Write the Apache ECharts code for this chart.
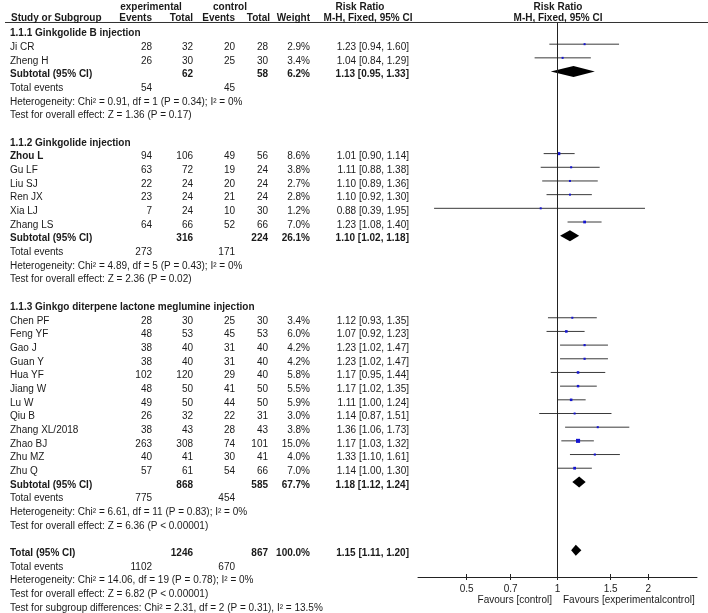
<!DOCTYPE html>
<html><head><meta charset="utf-8">
<script src="https://cdn.jsdelivr.net/npm/echarts@6/dist/echarts.min.js"></script>
<style>html,body{margin:0;padding:0;background:#fff}#c{width:708px;height:613px}</style>
</head><body><div id="c"></div><script>
// ---------------- data ----------------
const groupTitles = ['1.1.1 Ginkgolide B injection', '1.1.2 Ginkgolide injection', '1.1.3 Ginkgo diterpene lactone meglumine injection'];
const studyName = ['Ji CR','Zheng H','Zhou L','Gu LF','Liu SJ','Ren JX','Xia LJ','Zhang LS','Chen PF','Feng YF','Gao J','Guan Y','Hua YF','Jiang W','Lu W','Qiu B','Zhang XL/2018','Zhao BJ','Zhu MZ','Zhu Q'];
const studyGroup = [0,0,1,1,1,1,1,1,2,2,2,2,2,2,2,2,2,2,2,2];
const expEvents = [28,26,94,63,22,23,7,64,28,48,38,38,102,48,49,26,38,263,40,57];
const expTotal = [32,30,106,72,24,24,24,66,30,53,40,40,120,50,50,32,43,308,41,61];
const ctrlEvents = [20,25,49,19,20,21,10,52,25,45,31,31,29,41,44,22,28,74,30,54];
const ctrlTotal = [28,30,56,24,24,24,30,66,30,53,40,40,40,50,50,31,43,101,41,66];
const weight = [2.9,3.4,8.6,3.8,2.7,2.8,1.2,7.0,3.4,6.0,4.2,4.2,5.8,5.5,5.9,3.0,3.8,15.0,4.0,7.0];
const rr = [1.23,1.04,1.01,1.11,1.10,1.10,0.88,1.23,1.12,1.07,1.23,1.23,1.17,1.17,1.11,1.14,1.36,1.17,1.33,1.14];
const rrLo = [0.94,0.84,0.90,0.88,0.89,0.92,0.39,1.08,0.93,0.92,1.02,1.02,0.95,1.02,1.00,0.87,1.06,1.03,1.10,1.00];
const rrHi = [1.60,1.29,1.14,1.38,1.36,1.30,1.95,1.40,1.35,1.23,1.47,1.47,1.44,1.35,1.24,1.51,1.73,1.32,1.61,1.30];
const boldStudies = ['Zhou L'];

const subExpTotal = [62,316,868];
const subCtrlTotal = [58,224,585];
const subWeight = [6.2,26.1,67.7];
const subRR = [1.13,1.10,1.18];
const subLo = [0.95,1.02,1.12];
const subHi = [1.33,1.18,1.24];
const subExpEvents = [54,273,775];
const subCtrlEvents = [45,171,454];
const subHet = ['Heterogeneity: Chi² = 0.91, df = 1 (P = 0.34); I² = 0%','Heterogeneity: Chi² = 4.89, df = 5 (P = 0.43); I² = 0%','Heterogeneity: Chi² = 6.61, df = 11 (P = 0.83); I² = 0%'];
const subTest = ['Test for overall effect: Z = 1.36 (P = 0.17)','Test for overall effect: Z = 2.36 (P = 0.02)','Test for overall effect: Z = 6.36 (P < 0.00001)'];

const totExpTotal = 1246, totCtrlTotal = 867, totWeight = 100.0;
const totRR = 1.15, totLo = 1.11, totHi = 1.20;
const totExpEvents = 1102, totCtrlEvents = 670;
const totHet = 'Heterogeneity: Chi² = 14.06, df = 19 (P = 0.78); I² = 0%';
const totTest = 'Test for overall effect: Z = 6.82 (P < 0.00001)';
const subgroupTest = 'Test for subgroup differences: Chi² = 2.31, df = 2 (P = 0.31), I² = 13.5%';

const axisTicks = [0.5, 0.7, 1, 1.5, 2];
const axisMin = 0.345, axisMax = 2.9;
const favoursLeft = 'Favours [control]';
const favoursRight = 'Favours [experimentalcontrol]';

// ---------------- layout ----------------
const W = 708, H = 613;
const ROW0 = 33.5, ROWN = 608, NROW = 42;
const rowH = (ROWN - ROW0) / NROW;
const FOREST_TOP = 23, AXIS_Y = 577, FOREST_L = 418, FOREST_R = 697;
const MARK_SHIFT = 3;
const COL = {name: 10, ee: 152, et: 193, ce: 235, ct: 268, w: 310, rr: 409};
const FONT = '"Liberation Sans", Arial, Helvetica, sans-serif';

const items = [];
const T = (x, row, text, align, bold) => items.push({x, row, text: String(text), align: align || 'left', bold: !!bold});
const fmtW = w => w.toFixed(1) + '%';
const fmtRR = (a, b, c) => a.toFixed(2) + ' [' + b.toFixed(2) + ', ' + c.toFixed(2) + ']';

const studyMarks = [];
const diamonds = [];

// header
const h1 = (7 - ROW0) / rowH, h2 = (18.5 - ROW0) / rowH;
T(151, h1, 'experimental', 'center', true);
T(230, h1, 'control', 'center', true);
T(360, h1, 'Risk Ratio', 'center', true);
T(558, h1, 'Risk Ratio', 'center', true);
T(11, h2, 'Study or Subgroup', 'left', true);
T(COL.ee, h2, 'Events', 'right', true);
T(COL.et, h2, 'Total', 'right', true);
T(COL.ce, h2, 'Events', 'right', true);
T(270, h2, 'Total', 'right', true);
T(COL.w, h2, 'Weight', 'right', true);
T(368, h2, 'M-H, Fixed, 95% CI', 'center', true);
T(558, h2, 'M-H, Fixed, 95% CI', 'center', true);

let r = 0;
groupTitles.forEach((title, g) => {
  T(COL.name, r, title, 'left', true); r++;
  studyName.forEach((n, i) => {
    if (studyGroup[i] !== g) return;
    T(COL.name, r, n, 'left', boldStudies.includes(n));
    T(COL.ee, r, expEvents[i], 'right');
    T(COL.et, r, expTotal[i], 'right');
    T(COL.ce, r, ctrlEvents[i], 'right');
    T(COL.ct, r, ctrlTotal[i], 'right');
    T(COL.w, r, fmtW(weight[i]), 'right');
    T(COL.rr, r, fmtRR(rr[i], rrLo[i], rrHi[i]), 'right');
    studyMarks.push([rr[i], r, rrLo[i], rrHi[i], weight[i]]);
    r++;
  });
  T(COL.name, r, 'Subtotal (95% CI)', 'left', true);
  T(COL.et, r, subExpTotal[g], 'right', true);
  T(COL.ct, r, subCtrlTotal[g], 'right', true);
  T(COL.w, r, fmtW(subWeight[g]), 'right', true);
  T(COL.rr, r, fmtRR(subRR[g], subLo[g], subHi[g]), 'right', true);
  diamonds.push([subRR[g], r, subLo[g], subHi[g]]);
  r++;
  T(COL.name, r, 'Total events', 'left');
  T(COL.ee, r, subExpEvents[g], 'right');
  T(COL.ce, r, subCtrlEvents[g], 'right');
  r++;
  T(COL.name, r, subHet[g], 'left'); r++;
  T(COL.name, r, subTest[g], 'left'); r++;
  r++;
});
T(COL.name, r, 'Total (95% CI)', 'left', true);
T(COL.et, r, totExpTotal, 'right', true);
T(COL.ct, r, totCtrlTotal, 'right', true);
T(COL.w, r, fmtW(totWeight), 'right', true);
T(COL.rr, r, fmtRR(totRR, totLo, totHi), 'right', true);
diamonds.push([totRR, r, totLo, totHi]);
r++;
T(COL.name, r, 'Total events', 'left');
T(COL.ee, r, totExpEvents, 'right');
T(COL.ce, r, totCtrlEvents, 'right');
r++;
T(COL.name, r, totHet, 'left'); r++;
T(COL.name, r, totTest, 'left'); r++;
T(COL.name, r, subgroupTest, 'left'); r++;

const favRow = (600.5 - ROW0) / rowH;
T(552, favRow, favoursLeft, 'right');
T(563, favRow, favoursRight, 'left');

const chart = echarts.init(document.getElementById('c'), null, {renderer: 'canvas'});
const fyMin = (FOREST_TOP - (ROW0 - MARK_SHIFT)) / rowH;
const fyMax = (AXIS_Y - (ROW0 - MARK_SHIFT)) / rowH;

const logAxisBase = {gridIndex: 1, type: 'log', logBase: 10, min: axisMin, max: axisMax, position: 'bottom',
  splitLine: {show: false}, minorTick: {show: false}};

chart.setOption({
  animation: false,
  backgroundColor: '#fff',
  grid: [
    {left: 0, right: 0, top: ROW0 - 2 * rowH, bottom: H - ROWN},
    {left: FOREST_L, right: W - FOREST_R, top: FOREST_TOP, bottom: H - AXIS_Y}
  ],
  xAxis: [
    {gridIndex: 0, type: 'value', min: 0, max: W, show: false},
    Object.assign({}, logAxisBase, {
     axisLine: {show: true, onZero: false, lineStyle: {color: '#222', width: 1}},
     axisTick: {show: true, length: 3, lineStyle: {color: '#222'}, customValues: axisTicks},
     axisLabel: {show: true, customValues: axisTicks, formatter: v => String(+(+v).toFixed(2)), fontSize: 10, color: '#222', fontFamily: FONT, margin: 7}}),
    Object.assign({}, logAxisBase, {
     axisLine: {show: false, onZero: false},
     axisTick: {show: true, inside: true, length: 3, lineStyle: {color: '#222'}, customValues: axisTicks},
     axisLabel: {show: false}})
  ],
  yAxis: [
    {gridIndex: 0, type: 'value', min: -2, max: NROW, inverse: true, show: false},
    {gridIndex: 1, type: 'value', min: fyMin, max: fyMax, inverse: true, show: false}
  ],
  graphic: [
    {type: 'line', shape: {x1: 5, y1: 22.5, x2: W, y2: 22.5}, style: {stroke: '#333', lineWidth: 1}}
  ],
  series: [
    {
      type: 'custom', xAxisIndex: 0, yAxisIndex: 0, silent: true,
      data: items.map(d => [d.x, d.row]),
      renderItem: (params, api) => {
        const it = items[params.dataIndex];
        const p = api.coord([api.value(0), api.value(1)]);
        return {type: 'text', x: p[0], y: p[1], style: {
          text: it.text, textAlign: it.align, textVerticalAlign: 'middle', fill: '#1a1a1a',
          font: (it.bold ? 'bold ' : '') + '10px ' + FONT}};
      }
    },
    {
      type: 'custom', xAxisIndex: 1, yAxisIndex: 1, silent: true, clip: false,
      data: studyMarks,
      encode: {x: 0, y: 1},
      renderItem: (params, api) => {
        const row = api.value(1);
        const p = api.coord([api.value(0), row]);
        const a = api.coord([api.value(2), row]);
        const b = api.coord([api.value(3), row]);
        const s = Math.max(2, Math.sqrt(api.value(4)) * 1.05);
        return {type: 'group', children: [
          {type: 'line', shape: {x1: a[0], y1: a[1], x2: b[0], y2: b[1]}, style: {stroke: '#3a3a3a', lineWidth: 1}},
          {type: 'rect', shape: {x: p[0] - s / 2, y: p[1] - s / 2, width: s, height: s}, style: {fill: '#1515d0'}}
        ]};
      },
      markLine: {silent: true, symbol: 'none', label: {show: false},
        lineStyle: {color: '#222', width: 1, type: 'solid'}, data: [{xAxis: 1}]}
    },
    {
      type: 'custom', xAxisIndex: 1, yAxisIndex: 1, silent: true,
      data: diamonds,
      encode: {x: 0, y: 1},
      renderItem: (params, api) => {
        const row = api.value(1);
        const p = api.coord([api.value(0), row]);
        const a = api.coord([api.value(2), row]);
        const b = api.coord([api.value(3), row]);
        const hh = 5.5;
        return {type: 'polygon', shape: {points: [[a[0], a[1]], [p[0], p[1] - hh], [b[0], b[1]], [p[0], p[1] + hh]]}, style: {fill: '#000'}};
      }
    }
  ]
});
</script></body></html>
